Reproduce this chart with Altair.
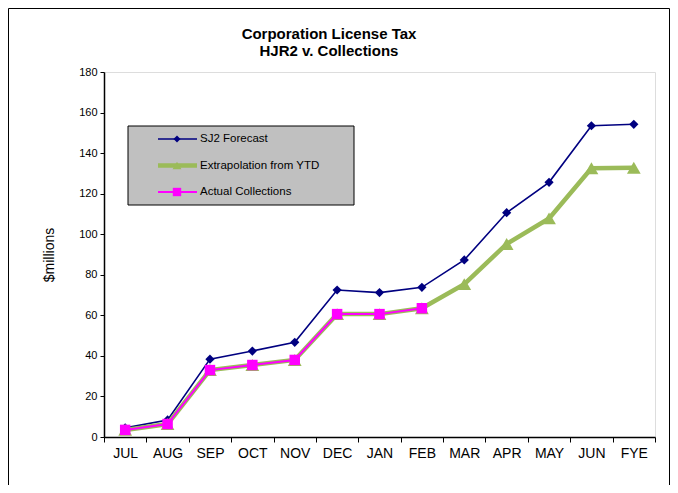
import altair as alt
import pandas as pd

months = ["JUL", "AUG", "SEP", "OCT", "NOV", "DEC", "JAN", "FEB", "MAR", "APR", "MAY", "JUN", "FYE"]
sj2_forecast = [4.5, 8.4, 38.4, 42.4, 46.7, 72.5, 71.2, 73.8, 87.3, 110.6, 125.6, 153.5, 154.2]
extrapolation = [3.5, 6.4, 33.0, 35.5, 38.0, 60.6, 60.6, 63.5, 75.4, 95.2, 107.8, 132.5, 132.8]
actual = [3.5, 6.4, 33.0, 35.5, 38.0, 60.6, 60.6, 63.5]
series_names = ["SJ2 Forecast", "Extrapolation from YTD", "Actual Collections"]
title_lines = ["Corporation License Tax", "HJR2 v. Collections"]
y_ticks = [0, 20, 40, 60, 80, 100, 120, 140, 160, 180]

FONT = "Liberation Sans"
NAVY = "#000080"
GREEN = "#9BBB59"
MAGENTA = "#FF00FF"

df_sj2 = pd.DataFrame({"month": months, "value": sj2_forecast})
df_ext = pd.DataFrame({"month": months, "value": extrapolation})
df_act = pd.DataFrame({"month": months[:len(actual)], "value": actual})
one = pd.DataFrame({"a": [0]})

x_enc = alt.X(
    "month:N",
    sort=months,
    scale=alt.Scale(domain=months, paddingInner=0, paddingOuter=0),
    axis=alt.Axis(
        title=None, labelAngle=0, labelFontSize=14, labelColor="black",
        labelFont=FONT, tickBand="extent", tickSize=5, tickColor="black",
        domainColor="black", domainWidth=1.5, labelPadding=4, grid=False,
    ),
)
y_enc = alt.Y(
    "value:Q",
    scale=alt.Scale(domain=[0, 180], nice=False),
    axis=alt.Axis(
        values=y_ticks, title="$millions", titleFontSize=14, titleFont=FONT,
        titleFontWeight="normal", titleColor="black", titlePadding=22,
        labelFontSize=11, labelFont=FONT, labelColor="black", tickSize=4,
        tickColor="black", domainColor="black", domainWidth=1.5, grid=False,
        labelPadding=3,
    ),
)


def series(df, color, width, shape, size):
    base = alt.Chart(df).encode(x=x_enc, y=y_enc)
    line = base.mark_line(color=color, strokeWidth=width)
    pts = base.mark_point(shape=shape, filled=True, size=size, color=color, opacity=1)
    return line + pts


sj2_layer = series(df_sj2, NAVY, 1.6, "diamond", 85)
ext_layer = series(df_ext, GREEN, 4.5, "triangle-up", 190)
act_layer = series(df_act, MAGENTA, 2, "square", 110)

frame = alt.Chart(one).mark_rect(fillOpacity=0, stroke="black", strokeWidth=1).encode(
    x=alt.value(-95.5), x2=alt.value(565.5), y=alt.value(-63.5), y2=alt.value(520)
)

title_layers = [
    alt.Chart(one).mark_text(
        align="center", baseline="alphabetic", fontSize=15, fontWeight="bold",
        font=FONT, color="black"
    ).encode(x=alt.value(225), y=alt.value(yy), text=alt.value(t))
    for t, yy in zip(title_lines, [-33.5, -16.5])
]

legend_box = alt.Chart(one).mark_rect(fill="#C0C0C0", stroke="black", strokeWidth=1).encode(
    x=alt.value(24), x2=alt.value(250), y=alt.value(54), y2=alt.value(133)
)

legend_layers = [legend_box]
rows_y = [67, 93.5, 120]
styles = [(NAVY, 1.6, "diamond", 50), (GREEN, 4.5, "triangle-up", 80), (MAGENTA, 2, "square", 70)]
for name, yy, (col, sw, shp, sz) in zip(series_names, rows_y, styles):
    legend_layers.append(
        alt.Chart(one).mark_rule(color=col, strokeWidth=sw).encode(
            x=alt.value(54), x2=alt.value(93), y=alt.value(yy)
        )
    )
    legend_layers.append(
        alt.Chart(one).mark_point(shape=shp, filled=True, size=sz, color=col, opacity=1).encode(
            x=alt.value(73), y=alt.value(yy)
        )
    )
    legend_layers.append(
        alt.Chart(one).mark_text(align="left", baseline="middle", fontSize=11.5, font=FONT, color="black").encode(
            x=alt.value(96), y=alt.value(yy), text=alt.value(name)
        )
    )

chart = alt.layer(
    frame, *title_layers, sj2_layer, ext_layer, act_layer, *legend_layers
).properties(
    width=551,
    height=365,
    autosize=alt.AutoSizeParams(type="none"),
    padding={"left": 96, "top": 64, "right": 15, "bottom": 48},
).configure_view(
    stroke="#808080", strokeWidth=1.5
).configure(
    font=FONT, background="white"
)

chart.save("out.html", embed_options={"renderer": "svg", "actions": False})
